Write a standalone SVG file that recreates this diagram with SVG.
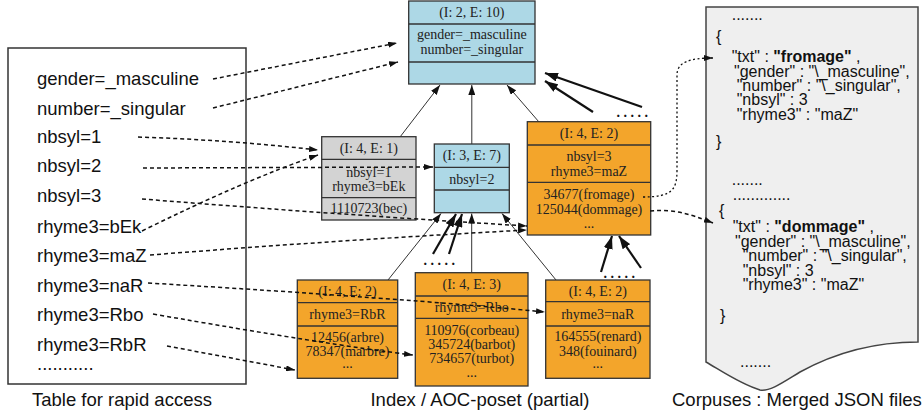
<svg xmlns="http://www.w3.org/2000/svg" width="923" height="416" viewBox="0 0 923 416">
<style>
.tbl{font-family:"Liberation Sans",Arial,sans-serif;font-size:18.5px;fill:#111}
.cap{font-family:"Liberation Sans",Arial,sans-serif;font-size:18.5px;fill:#111}
.nt{font-family:"Liberation Serif","Times New Roman",serif;font-size:14px;fill:#222;text-anchor:middle}
.dots{font-family:"Liberation Serif","Times New Roman",serif;font-size:14px;font-weight:bold;fill:#111;text-anchor:middle;letter-spacing:3.5px}
.js{font-family:"Liberation Sans",Arial,sans-serif;font-size:16px;fill:#111}
.box{stroke:#333;stroke-width:1.3}
.blue{fill:#ADD8E6}
.grey{fill:#D3D3D3}
.orange{fill:#F3A52B}
.sep{stroke:#333;stroke-width:1.3}
.thin{fill:none;stroke:#333;stroke-width:1}
.thick{fill:none;stroke:#111;stroke-width:2.2}
.dash{fill:none;stroke:#111;stroke-width:1.5;stroke-dasharray:4 3}
.dot{fill:none;stroke:#111;stroke-width:1.3;stroke-dasharray:2 2.5}
</style>
<defs>
<marker id="ah" markerUnits="userSpaceOnUse" markerWidth="10" markerHeight="7" refX="10" refY="3.5" orient="auto"><path d="M0,0 L10,3.5 L0,7 z" fill="#111"/></marker>
<marker id="ahT" markerUnits="userSpaceOnUse" markerWidth="13" markerHeight="9" refX="13" refY="4.5" orient="auto"><path d="M0,0 L13,4.5 L0,9 z" fill="#111"/></marker>
<marker id="ahD" markerUnits="userSpaceOnUse" markerWidth="9" markerHeight="6" refX="9" refY="3" orient="auto"><path d="M0,0 L9,3 L0,6 z" fill="#111"/></marker>
</defs>

<g id="table">
<rect x="8" y="48" width="238" height="336" fill="#fff" stroke="#333" stroke-width="1.5"/>
<text class="tbl" x="37" y="85">gender=_masculine</text>
<text class="tbl" x="37" y="115">number=_singular</text>
<text class="tbl" x="37" y="143">nbsyl=1</text>
<text class="tbl" x="37" y="172">nbsyl=2</text>
<text class="tbl" x="37" y="202">nbsyl=3</text>
<text class="tbl" x="37" y="233">rhyme3=bEk</text>
<text class="tbl" x="37" y="262">rhyme3=maZ</text>
<text class="tbl" x="37" y="292">rhyme3=naR</text>
<text class="tbl" x="37" y="321">rhyme3=Rbo</text>
<text class="tbl" x="37" y="351">rhyme3=RbR</text>
<text class="tbl" x="37" y="370">...........</text>
<text class="cap" x="32" y="406">Table for rapid access</text>
</g>

<g id="n_top">
<rect class="box blue" x="408.7" y="1" width="126.3" height="83"/>
<line class="sep" x1="408.7" y1="24" x2="535" y2="24"/>
<line class="sep" x1="408.7" y1="62" x2="535" y2="62"/>
<text class="nt" x="471.8" y="17">(I: 2, E: 10)</text>
<text class="nt" x="471.8" y="39">gender=_masculine</text>
<text class="nt" x="471.8" y="54">number=_singular</text>
</g>

<g id="n_bEk">
<rect class="box grey" x="321.7" y="136.7" width="94.3" height="83.3"/>
<line class="sep" x1="321.7" y1="159.3" x2="416" y2="159.3"/>
<line class="sep" x1="321.7" y1="197.7" x2="416" y2="197.7"/>
<text class="nt" x="368.8" y="152.5">(I: 4, E: 1)</text>
<text class="nt" x="368.8" y="176.5">nbsyl=1</text>
<text class="nt" x="368.8" y="190.5">rhyme3=bEk</text>
<text class="nt" x="368.8" y="212.5">1110723(bec)</text>
</g>

<g id="n_nbsyl2">
<rect class="box blue" x="434.3" y="144" width="75" height="68.7"/>
<line class="sep" x1="434.3" y1="167.3" x2="509.3" y2="167.3"/>
<line class="sep" x1="434.3" y1="190" x2="509.3" y2="190"/>
<text class="nt" x="471.8" y="159.5">(I: 3, E: 7)</text>
<text class="nt" x="471.8" y="183.5">nbsyl=2</text>
</g>

<g id="n_maZ">
<rect class="box orange" x="527.3" y="121.7" width="123.4" height="113.3"/>
<line class="sep" x1="527.3" y1="145" x2="650.7" y2="145"/>
<line class="sep" x1="527.3" y1="182.3" x2="650.7" y2="182.3"/>
<text class="nt" x="589" y="138">(I: 4, E: 2)</text>
<text class="nt" x="589" y="161">nbsyl=3</text>
<text class="nt" x="589" y="176">rhyme3=maZ</text>
<text class="nt" x="589" y="198.5">34677(fromage)</text>
<text class="nt" x="589" y="213.5">125044(dommage)</text>
<text class="nt" x="589" y="228">...</text>
</g>

<g id="n_RbR">
<rect class="box orange" x="297.3" y="280" width="100.4" height="98.3"/>
<line class="sep" x1="297.3" y1="302.7" x2="397.7" y2="302.7"/>
<line class="sep" x1="297.3" y1="326" x2="397.7" y2="326"/>
<text class="nt" x="347.5" y="296">(I: 4, E: 2)</text>
<text class="nt" x="347.5" y="318.5">rhyme3=RbR</text>
<text class="nt" x="347.5" y="342">12456(arbre)</text>
<text class="nt" x="347.5" y="356">78347(marbre)</text>
<text class="nt" x="347.5" y="368">...</text>
</g>

<g id="n_Rbo">
<rect class="box orange" x="415.3" y="272.7" width="112.7" height="113.3"/>
<line class="sep" x1="415.3" y1="296" x2="528" y2="296"/>
<line class="sep" x1="415.3" y1="318.3" x2="528" y2="318.3"/>
<text class="nt" x="471.7" y="288.5">(I: 4, E: 3)</text>
<text class="nt" x="471.7" y="311.5">rhyme3=Rbo</text>
<text class="nt" x="471.7" y="334.5">110976(corbeau)</text>
<text class="nt" x="471.7" y="348.5">345724(barbot)</text>
<text class="nt" x="471.7" y="363">734657(turbot)</text>
<text class="nt" x="471.7" y="377">...</text>
</g>

<g id="n_naR">
<rect class="box orange" x="545.7" y="280" width="104.3" height="98.3"/>
<line class="sep" x1="545.7" y1="301.7" x2="650" y2="301.7"/>
<line class="sep" x1="545.7" y1="326" x2="650" y2="326"/>
<text class="nt" x="597.8" y="296">(I: 4, E: 2)</text>
<text class="nt" x="597.8" y="318.5">rhyme3=naR</text>
<text class="nt" x="597.8" y="341">164555(renard)</text>
<text class="nt" x="597.8" y="356">348(fouinard)</text>
<text class="nt" x="597.8" y="368">...</text>
</g>

<g id="more_top"><text class="dots" x="634" y="117">.....</text></g>
<g id="more_mid"><text class="dots" x="441" y="265">.....</text></g>
<g id="more_right"><text class="dots" x="621" y="278">.....</text></g>

<g id="corpus">
<path d="M706,7 H918 V342 C880,342 840,350 800,372 C785,381 770,392 760,390 C740,384 720,370 706,362 Z" fill="#EFEFEF" stroke="#444" stroke-width="1.5"/>
<text class="js" x="731.7" y="20">.......</text>
<text class="js" x="716" y="42">{</text>
<text class="js" x="731.7" y="61.5">"txt" : <tspan font-weight="bold">"fromage"</tspan> ,</text>
<text class="js" x="734" y="76.5">"gender" : "\_masculine",</text>
<text class="js" x="736.7" y="91">"number" : "\_singular",</text>
<text class="js" x="736.7" y="105">"nbsyl" : 3</text>
<text class="js" x="736.7" y="119.5">"rhyme3" : "maZ"</text>
<text class="js" x="716" y="147">}</text>
<text class="js" x="731.7" y="185">.......</text>
<text class="js" x="732.7" y="200">.............</text>
<text class="js" x="719" y="216">{</text>
<text class="js" x="732.7" y="231.5">"txt" : <tspan font-weight="bold">"dommage"</tspan> ,</text>
<text class="js" x="735" y="246.5">"gender" : "\_masculine",</text>
<text class="js" x="742.7" y="261">"number" : "\_singular",</text>
<text class="js" x="742.7" y="275.5">"nbsyl" : 3</text>
<text class="js" x="742.7" y="290">"rhyme3" : "maZ"</text>
<text class="js" x="720" y="321">}</text>
<text class="js" x="740" y="367">.......</text>
</g>

<g id="captions">
<text class="cap" x="480" y="406" text-anchor="middle">Index / AOC-poset (partial)</text>
<text class="cap" x="672" y="406">Corpuses : Merged JSON files</text>
</g>

<g id="connectors">
<path class="thin" d="M400,137 L440,85" marker-end="url(#ah)"/>
<path class="thin" d="M471.8,144 L471.8,85" marker-end="url(#ah)"/>
<path class="thin" d="M539,122 L507,85" marker-end="url(#ah)"/>
<path class="thin" d="M388,280 L441,213.5" marker-end="url(#ah)"/>
<path class="thin" d="M471.7,272.7 L471.7,213.5" marker-end="url(#ah)"/>
<path class="thin" d="M556,280 L502,213.5" marker-end="url(#ah)"/>
<path class="thick" d="M593,112 L545,81" marker-end="url(#ahT)"/>
<path class="thick" d="M642,107 L545,73" marker-end="url(#ahT)"/>
<path class="thick" d="M433,254 L456,214" marker-end="url(#ahT)"/>
<path class="thick" d="M449,254 L462,214" marker-end="url(#ahT)"/>
<path class="thick" d="M601,272 L612,236" marker-end="url(#ahT)"/>
<path class="thick" d="M641,268 L619,236" marker-end="url(#ahT)"/>
<path class="dash" d="M213,79 L397,43" marker-end="url(#ahD)"/>
<path class="dash" d="M213,108 L398,62" marker-end="url(#ahD)"/>
<path class="dash" d="M138,137 Q230,140 318,150" marker-end="url(#ahD)"/>
<path class="dash" d="M143,168 L433,167" marker-end="url(#ahD)"/>
<path class="dash" d="M142,199 Q330,214 527,226" marker-end="url(#ahD)"/>
<path class="dash" d="M142,231 Q245,180 318,155" marker-end="url(#ahD)"/>
<path class="dash" d="M150,255 Q340,240 527,230" marker-end="url(#ahD)"/>
<path class="dash" d="M148,283 Q400,298 545,312" marker-end="url(#ahD)"/>
<path class="dash" d="M153,314 Q330,345 413,355" marker-end="url(#ahD)"/>
<path class="dash" d="M167,346 L295,370" marker-end="url(#ahD)"/>
<path class="dot" d="M643,197 C672,197 677,190 677,170 L677,75 C677,62 690,58 713,58" marker-end="url(#ahD)"/>
<path class="dash" d="M650,211 C675,209 690,214 713,223" marker-end="url(#ahD)"/>
</g>
</svg>
